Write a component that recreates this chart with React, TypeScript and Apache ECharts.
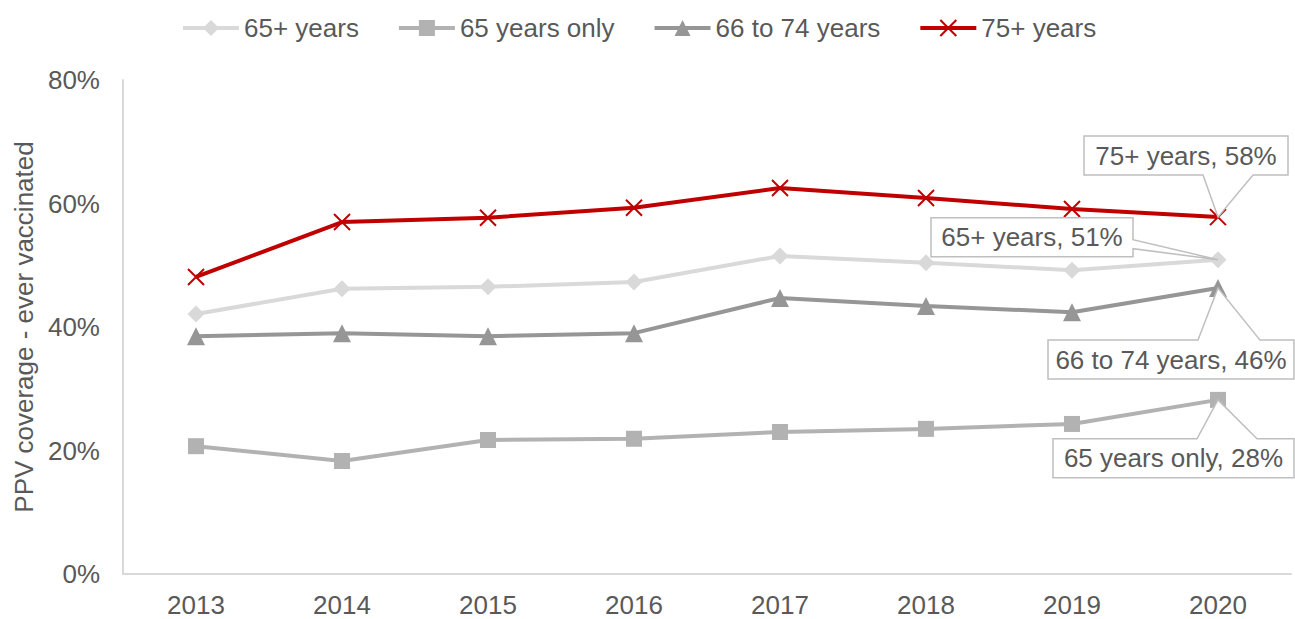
import React, { useEffect, useRef } from "react";
import * as echarts from "echarts";

const years = ["2013", "2014", "2015", "2016", "2017", "2018", "2019", "2020"];
const names = ["65+ years", "65 years only", "66 to 74 years", "75+ years"];
const s65plus = [42.1, 46.2, 46.5, 47.3, 51.5, 50.4, 49.2, 50.9];
const s65only = [20.7, 18.3, 21.7, 21.9, 23.0, 23.5, 24.3, 28.2];
const s66to74 = [38.5, 39.0, 38.5, 39.0, 44.7, 43.4, 42.4, 46.3];
const s75plus = [48.1, 57.0, 57.7, 59.3, 62.5, 60.9, 59.1, 57.8];
const yTicks = { min: 0, max: 80, interval: 20 };

const FONT = "'Liberation Sans', Arial, sans-serif";
const TXT = "#595959";

export default function App() {
  const ref = useRef<HTMLDivElement>(null);
  useEffect(() => {
    document.body.style.margin = "0";
    const chart = echarts.init(ref.current!, null, { renderer: "svg" });
    const seriesData = [s65plus, s65only, s66to74, s75plus];
    const colors = ["#D9D9D9", "#B2B2B2", "#969696", "#C00000"];
    const symbols = ["diamond", "rect", "triangle", "path://M0,0L10,10M10,0L0,10"];
    const sizes = [17, 16, 18, 16];
    const series = names.map((n, i) => ({
      name: n,
      type: "line",
      data: seriesData[i],
      symbol: symbols[i],
      symbolSize: sizes[i],
      lineStyle: { color: colors[i], width: 4 },
      itemStyle:
        i === 3
          ? { color: colors[i], borderColor: colors[i], borderWidth: 2 }
          : { color: colors[i] },
      z: 2 + i,
    }));
    chart.setOption({
      animation: false,
      textStyle: { fontFamily: FONT },
      legend: {
        top: 10,
        left: 176,
        itemWidth: 56,
        itemHeight: 20,
        itemGap: 38,
        lineStyle: { width: 4 },
        textStyle: { fontSize: 26, color: TXT, fontFamily: FONT },
        data: names,
      },
      grid: { left: 123, right: 4, top: 80, bottom: 45, containLabel: false },
      xAxis: {
        type: "category",
        data: years,
        boundaryGap: true,
        axisLine: { lineStyle: { color: "#D9D9D9", width: 2 } },
        axisTick: { show: false },
        axisLabel: { fontSize: 26, color: TXT, margin: 18, fontFamily: FONT },
      },
      yAxis: {
        type: "value",
        min: yTicks.min,
        max: yTicks.max,
        interval: yTicks.interval,
        name: "PPV coverage - ever vaccinated",
        nameLocation: "middle",
        nameGap: 86,
        nameTextStyle: { fontSize: 26, color: TXT, fontFamily: FONT },
        axisLine: { show: true, lineStyle: { color: "#D9D9D9", width: 2 } },
        axisTick: { show: false },
        splitLine: { show: false },
        axisLabel: { fontSize: 26, color: TXT, margin: 23, formatter: "{value}%", fontFamily: FONT },
      },
      series,
    });

    // callout layout (offsets relative to the last point of each series)
    const callouts = [
      { s: 3, box: [-134, -81, 70, -42], wedge: "bottom", b: [-15, 35] },
      { s: 0, box: [-287, -42, -85, -3], wedge: "right", b: [-20, -11] },
      { s: 2, box: [-170, 52, 76, 91], wedge: "top", b: [-20, 42] },
      { s: 1, box: [-165, 39, 76, 78], wedge: "top", b: [-21, 39] },
    ];
    const graphics: any[] = [];
    callouts.forEach((c) => {
      const data = seriesData[c.s];
      const last = data.length - 1;
      const p = chart.convertToPixel({ seriesIndex: c.s }, [last, data[last]]) as number[];
      const [x0, y0, x1, y1] = c.box;
      const [b1, b2] = c.b;
      let pts: number[][];
      if (c.wedge === "bottom") {
        pts = [[x0, y0], [x1, y0], [x1, y1], [b2, y1], [0, 0], [b1, y1], [x0, y1]];
      } else if (c.wedge === "right") {
        pts = [[x0, y0], [x1, y0], [x1, b1], [0, 0], [x1, b2], [x1, y1], [x0, y1]];
      } else {
        pts = [[x0, y0], [b1, y0], [0, 0], [b2, y0], [x1, y0], [x1, y1], [x0, y1]];
      }
      graphics.push({
        type: "polygon",
        z: 100,
        shape: { points: pts.map(([x, y]) => [p[0] + x, p[1] + y]) },
        style: { fill: "#ffffff", stroke: "#BFBFBF", lineWidth: 1.5 },
      });
      graphics.push({
        type: "text",
        z: 101,
        x: p[0] + (x0 + x1) / 2,
        y: p[1] + (y0 + y1) / 2,
        style: {
          text: `${names[c.s]}, ${Math.round(data[last])}%`,
          font: `26px ${FONT}`,
          fill: TXT,
          align: "center",
          verticalAlign: "middle",
          textAlign: "center",
          textVerticalAlign: "middle",
        },
      });
    });
    chart.setOption({ graphic: graphics });
    return () => chart.dispose();
  }, []);
  return <div ref={ref} style={{ width: 1295, height: 619 }} />;
}
